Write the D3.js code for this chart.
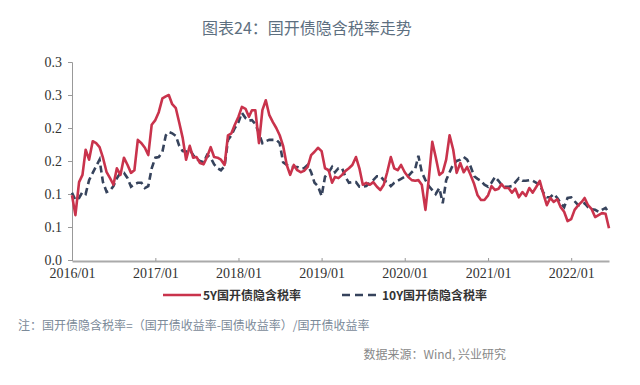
<!DOCTYPE html>
<html>
<head>
<meta charset="utf-8">
<script src="https://cdn.jsdelivr.net/npm/d3@7"></script>
<style>
  body { margin: 0; background: #fff; }
  svg { display: block; }
  .axis text { font-family: "Liberation Serif", "DejaVu Serif", serif; font-size: 14px; fill: #333; }
</style>
</head>
<body>
<svg width="640" height="385"></svg>
<script>
// semi-monthly samples, 2016/01/01 .. 2022/06/16
var y5 = [0.098,0.068,0.118,0.129,0.167,0.152,0.180,0.177,0.171,0.155,0.133,0.124,0.114,0.139,0.129,0.155,0.144,0.132,0.136,0.182,0.177,0.170,0.159,0.205,
  0.212,0.224,0.245,0.248,0.250,0.236,0.230,0.208,0.185,0.152,0.173,0.155,0.156,0.147,0.145,0.156,0.171,0.156,0.155,0.152,0.144,0.189,0.192,0.205,
  0.217,0.232,0.229,0.217,0.227,0.227,0.177,0.227,0.242,0.220,0.209,0.200,0.189,0.173,0.144,0.129,0.144,0.136,0.133,0.135,0.141,0.159,0.164,0.170,
  0.165,0.139,0.136,0.117,0.126,0.124,0.129,0.135,0.139,0.144,0.156,0.139,0.114,0.117,0.114,0.118,0.111,0.106,0.114,0.133,0.156,0.139,0.136,0.144,
  0.133,0.126,0.121,0.120,0.121,0.114,0.076,0.124,0.179,0.156,0.129,0.133,0.152,0.189,0.167,0.132,0.147,0.133,0.141,0.129,0.115,0.098,0.091,0.091,
  0.098,0.112,0.106,0.108,0.115,0.109,0.109,0.102,0.108,0.095,0.103,0.097,0.109,0.102,0.111,0.120,0.100,0.083,0.094,0.088,0.092,0.080,0.073,0.059,
  0.062,0.076,0.083,0.088,0.094,0.083,0.077,0.065,0.068,0.071,0.070,0.048];
var y10 = [0.102,0.091,0.094,0.103,0.100,0.121,0.132,0.142,0.152,0.118,0.103,0.105,0.112,0.124,0.132,0.132,0.124,0.111,0.115,0.117,0.117,0.109,0.112,0.139,
  0.155,0.156,0.164,0.189,0.194,0.192,0.188,0.173,0.165,0.164,0.167,0.159,0.153,0.150,0.148,0.159,0.155,0.145,0.139,0.136,0.142,0.182,0.189,0.200,
  0.209,0.223,0.215,0.211,0.212,0.206,0.192,0.177,0.180,0.182,0.182,0.182,0.177,0.148,0.144,0.141,0.141,0.141,0.139,0.139,0.144,0.133,0.117,0.112,
  0.097,0.126,0.133,0.141,0.133,0.139,0.139,0.126,0.117,0.118,0.118,0.111,0.111,0.112,0.117,0.121,0.127,0.127,0.121,0.118,0.112,0.117,0.120,0.123,
  0.126,0.127,0.133,0.138,0.158,0.133,0.121,0.112,0.106,0.100,0.109,0.086,0.121,0.133,0.145,0.150,0.152,0.156,0.152,0.142,0.127,0.123,0.120,0.114,
  0.111,0.117,0.126,0.120,0.114,0.111,0.111,0.112,0.118,0.124,0.120,0.120,0.121,0.120,0.117,0.114,0.102,0.095,0.095,0.100,0.094,0.086,0.080,0.094,
  0.095,0.089,0.083,0.083,0.086,0.080,0.077,0.076,0.073,0.076,0.079,0.071];
var years = [2016, 2017, 2018, 2019, 2020, 2021, 2022];
var yTicks = [0, 0.05, 0.10, 0.15, 0.20, 0.25, 0.30];
var seriesNames = ["5Y国开债隐含税率", "10Y国开债隐含税率"];

var dates = y5.map(function(d, i) {
  return new Date(2016 + Math.floor(i / 24), Math.floor((i % 24) / 2), i % 2 ? 16 : 1);
});

var svg = d3.select("svg");
var plotL = 72, plotR = 609, plotT = 62, plotB = 260;

var x = d3.scaleTime()
    .domain([new Date(2016, 0, 1), dates[dates.length - 1]])
    .range([plotL, plotR]);
var y = d3.scaleLinear().domain([0, 0.3]).range([plotB, plotT]);

// title
svg.append("text")
    .attr("x", 307).attr("y", 34)
    .attr("text-anchor", "middle")
    .style("font-family", "'Noto Sans CJK SC', 'Noto Sans', sans-serif")
    .style("font-size", "16px")
    .attr("fill", "#5d6f80")
    .text("图表24：国开债隐含税率走势");

// y axis
var yAxis = svg.append("g")
    .attr("class", "axis")
    .attr("transform", "translate(" + plotL + ",0)")
    .call(d3.axisLeft(y).tickValues(yTicks).tickSize(4).tickPadding(6)
      .tickFormat(function(d) { return (Math.round(d * 10 + 1e-9) / 10).toFixed(1); }));
yAxis.attr("font-family", null).attr("font-size", null);
yAxis.select(".domain").attr("stroke", "#999");
yAxis.selectAll(".tick line").attr("stroke", "#999");
yAxis.selectAll("text").attr("fill", null);

// x axis
var xAxis = svg.append("g")
    .attr("class", "axis")
    .attr("transform", "translate(0," + (plotB + 1) + ")")
    .call(d3.axisBottom(x)
      .tickValues(years.map(function(yr) { return new Date(yr, 0, 1); }))
      .tickSize(-3).tickSizeOuter(0).tickPadding(7)
      .tickFormat(d3.timeFormat("%Y/%m")));
xAxis.attr("font-family", null).attr("font-size", null);
xAxis.select(".domain").attr("stroke", "#aaa").attr("stroke-width", 2);
xAxis.selectAll(".tick line").attr("stroke", "#999");
xAxis.selectAll("text").attr("fill", null);

var line = d3.line()
    .x(function(d, i) { return x(dates[i]); })
    .y(function(d) { return y(d); });

svg.append("path")
    .datum(y10)
    .attr("fill", "none")
    .attr("stroke", "#36435c")
    .attr("stroke-width", 2.6)
    .attr("stroke-dasharray", "7,4")
    .attr("d", line);

svg.append("path")
    .datum(y5)
    .attr("fill", "none")
    .attr("stroke", "#c9334c")
    .attr("stroke-width", 2.6)
    .attr("stroke-linejoin", "round")
    .attr("d", line);

// legend
var legend = [
  { name: seriesNames[0], x: 163, color: "#c9334c", dash: null },
  { name: seriesNames[1], x: 342, color: "#36435c", dash: "8,5" }
];
var lg = svg.append("g").selectAll("g").data(legend).enter().append("g");
lg.append("line")
    .attr("x1", function(d) { return d.x; })
    .attr("x2", function(d) { return d.x + 38; })
    .attr("y1", 295).attr("y2", 295)
    .attr("stroke", function(d) { return d.color; })
    .attr("stroke-width", 2.5)
    .attr("stroke-dasharray", function(d) { return d.dash; });
lg.append("text")
    .attr("x", function(d) { return d.x + 40; })
    .attr("y", 299.5)
    .style("font-family", "'Noto Sans CJK SC', sans-serif")
    .style("font-size", "12px")
    .style("font-weight", "bold")
    .attr("fill", "#333")
    .text(function(d) { return d.name; });

// notes
svg.append("text")
    .attr("x", 18).attr("y", 330)
    .style("font-family", "'Noto Sans CJK SC', sans-serif")
    .style("font-size", "12px")
    .attr("fill", "#7b8a99")
    .text("注：国开债隐含税率=（国开债收益率-国债收益率）/国开债收益率");

svg.append("text")
    .attr("x", 506).attr("y", 359)
    .attr("text-anchor", "end")
    .style("font-family", "'Noto Sans CJK SC', sans-serif")
    .style("font-size", "12px")
    .attr("fill", "#888")
    .text("数据来源：Wind, 兴业研究");
</script>
</body>
</html>
